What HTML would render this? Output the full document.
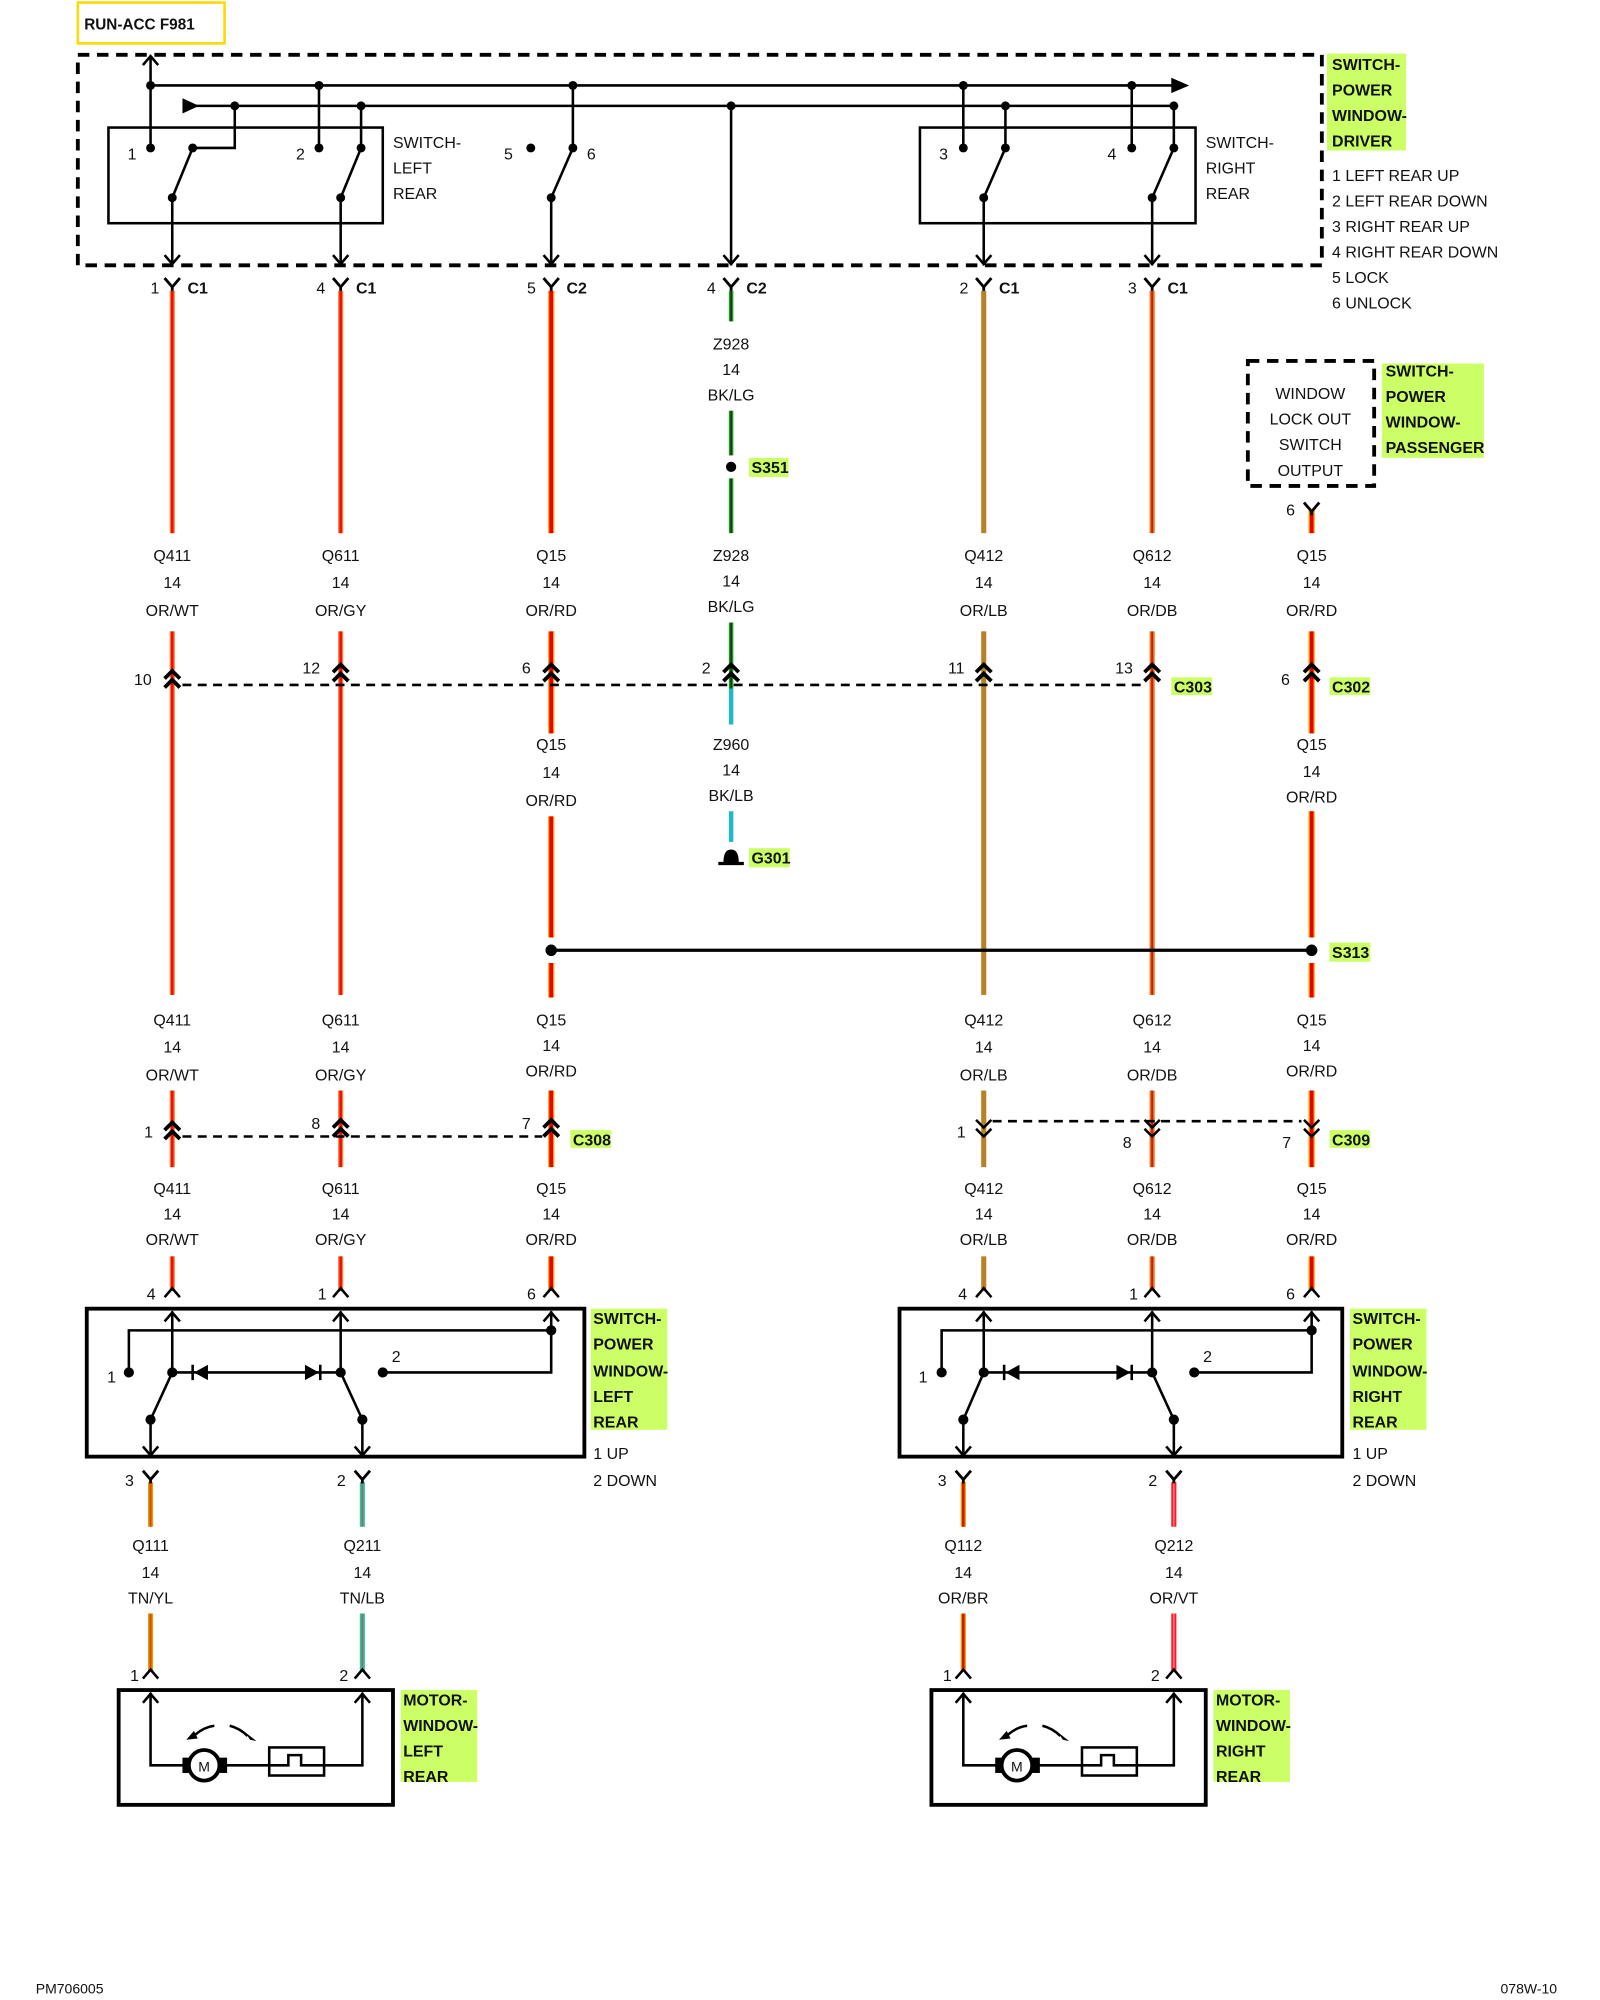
<!DOCTYPE html>
<html><head><meta charset="utf-8"><style>
html,body{margin:0;padding:0;background:#fff;width:1600px;height:2000px;overflow:hidden}
svg{display:block}
text{font-family:"Liberation Sans",sans-serif;font-size:12.5px;fill:#111}
.m{text-anchor:middle}
.b{font-weight:bold;font-size:12.5px}
.k{stroke:#000;stroke-width:2;fill:none}
.d{stroke:#000;stroke-width:3;fill:none;stroke-dasharray:9,6}
.dd{stroke:#000;stroke-width:2;fill:none;stroke-dasharray:7,5}
</style></head><body>
<svg width="1600" height="2000" viewBox="0 0 1254 1568" preserveAspectRatio="none" xmlns="http://www.w3.org/2000/svg">
<defs>
<path id="Y" d="M-6,-7 L0,0 L6,-7 M0,0 V3" stroke="#000" stroke-width="2.2" fill="none"/>
<path id="V" d="M-6,6 L0,0 L6,6" stroke="#000" stroke-width="2.2" fill="none"/>
<path id="VV" d="M-6,4 L0,-2 L6,4 M-6,11 L0,5 L6,11" stroke="#000" stroke-width="3" fill="none"/>
<path id="DV" d="M-6,-4 L0,2 L6,-4 M-6,-11 L0,-5 L6,-11" stroke="#000" stroke-width="2" fill="none"/>
<path id="AD" d="M-6,-7 L0,0 L6,-7" stroke="#000" stroke-width="2" fill="none"/>
<path id="AU" d="M-6,7 L0,0 L6,7" stroke="#000" stroke-width="2" fill="none"/>
</defs>

<!-- RUN-ACC -->
<rect x="61" y="2" width="115" height="32" fill="#fff" stroke="#ffd800" stroke-width="2"/>
<text x="66" y="23" class="b" style="font-size:12px">RUN-ACC F981</text>

<!-- driver switch dashed box -->
<path class="d" d="M61,43 H1036 V208 H61 Z"/>
<rect x="1040" y="42" width="62" height="76" fill="#ccff66"/>
<text x="1044" y="55" class="b">SWITCH-</text>
<text x="1044" y="75" class="b">POWER</text>
<text x="1044" y="95" class="b">WINDOW-</text>
<text x="1044" y="115" class="b">DRIVER</text>
<text x="1044" y="142">1 LEFT REAR UP</text>
<text x="1044" y="162">2 LEFT REAR DOWN</text>
<text x="1044" y="182">3 RIGHT REAR UP</text>
<text x="1044" y="202">4 RIGHT REAR DOWN</text>
<text x="1044" y="222">5 LOCK</text>
<text x="1044" y="242">6 UNLOCK</text>

<!-- buses -->
<path class="k" d="M118,67 H925 M150,83 H920 M118,67 V44"/>
<use href="#AU" x="118" y="44"/>
<path d="M918,61 L932,67 L918,73 Z" fill="#000"/>
<path d="M143,77 L156,83 L143,89 Z" fill="#000"/>
<rect x="85" y="100" width="215" height="75" class="k"/>
<rect x="721" y="100" width="216" height="75" class="k"/>
<text x="308" y="116">SWITCH-</text><text x="308" y="136">LEFT</text><text x="308" y="156">REAR</text>
<text x="945" y="116">SWITCH-</text><text x="945" y="136">RIGHT</text><text x="945" y="156">REAR</text>
<g class="k">
<path d="M118,67 V116 M151,116 H184 V83 M135,155 L151,116 M135,155 V208"/>
<path d="M250,67 V116 M283,83 V116 M267,155 L283,116 M267,155 V208"/>
<path d="M449,67 V116 M432,155 L449,116 M432,155 V208"/>
<path d="M573,83 V208"/>
<path d="M755,67 V116 M788,83 V116 M771,155 L788,116 M771,155 V208"/>
<path d="M887,67 V116 M920,83 V116 M903,155 L920,116 M903,155 V208"/>
</g>
<g fill="#000">
<circle cx="118" cy="67" r="3.5"/><circle cx="250" cy="67" r="3.5"/><circle cx="449" cy="67" r="3.5"/><circle cx="755" cy="67" r="3.5"/><circle cx="887" cy="67" r="3.5"/>
<circle cx="184" cy="83" r="3.5"/><circle cx="283" cy="83" r="3.5"/><circle cx="573" cy="83" r="3.5"/><circle cx="788" cy="83" r="3.5"/><circle cx="920" cy="83" r="3.5"/>
<circle cx="118" cy="116" r="3.5"/><circle cx="151" cy="116" r="3.5"/><circle cx="135" cy="155" r="3.5"/>
<circle cx="250" cy="116" r="3.5"/><circle cx="283" cy="116" r="3.5"/><circle cx="267" cy="155" r="3.5"/>
<circle cx="416" cy="116" r="3.5"/><circle cx="449" cy="116" r="3.5"/><circle cx="432" cy="155" r="3.5"/>
<circle cx="755" cy="116" r="3.5"/><circle cx="788" cy="116" r="3.5"/><circle cx="771" cy="155" r="3.5"/>
<circle cx="887" cy="116" r="3.5"/><circle cx="920" cy="116" r="3.5"/><circle cx="903" cy="155" r="3.5"/>
</g>
<text x="100" y="125">1</text><text x="232" y="125">2</text><text x="395" y="125">5</text><text x="460" y="125">6</text><text x="736" y="125">3</text><text x="868" y="125">4</text>
<use href="#AD" x="135" y="207"/><use href="#AD" x="267" y="207"/><use href="#AD" x="432" y="207"/><use href="#AD" x="573" y="207"/><use href="#AD" x="771" y="207"/><use href="#AD" x="903" y="207"/>

<!-- wires -->
<g stroke-linecap="butt" fill="none">
<!-- OR/WT 135 -->
<g><path stroke="#ff7a2a" stroke-width="4" d="M135,228V418M135,495V780M135,855V915M135,985V1012"/><path stroke="#e81010" stroke-width="2" d="M135,228V418M135,495V780M135,855V915M135,985V1012"/></g>
<g><path stroke="#ff7a2a" stroke-width="4" d="M267,228V418M267,495V780M267,855V915M267,985V1012"/><path stroke="#e81010" stroke-width="2" d="M267,228V418M267,495V780M267,855V915M267,985V1012"/></g>
<g><path stroke="#ffb000" stroke-width="5" d="M432,228V418M432,495V575M432,640V735M432,755V782M432,855V915M432,985V1012"/><path stroke="#e80000" stroke-width="3" d="M432,228V418M432,495V575M432,640V735M432,755V782M432,855V915M432,985V1012"/></g>
<g><path stroke="#ffb000" stroke-width="5" d="M1028,400V418M1028,495V575M1028,636V735M1028,755V782M1028,855V915M1028,985V1012"/><path stroke="#e80000" stroke-width="3" d="M1028,400V418M1028,495V575M1028,636V735M1028,755V782M1028,855V915M1028,985V1012"/></g>
<g><path stroke="#e07020" stroke-width="4" d="M771,228V418M771,495V780M771,855V915M771,985V1012"/><path stroke="#809a30" stroke-width="1.5" d="M771,228V418M771,495V780M771,855V915M771,985V1012"/></g>
<g><path stroke="#ff6a10" stroke-width="4" d="M903,228V418M903,495V780M903,855V915M903,985V1012"/><path stroke="#b02a20" stroke-width="1.5" d="M903,228V418M903,495V780M903,855V915M903,985V1012"/></g>
<path stroke="#1a9a1a" stroke-width="3.5" d="M573,228V252M573,322V357M573,375V418M573,488V540"/>
<path stroke="#1a1a1a" stroke-width="1" d="M573,228V252M573,322V357M573,375V418M573,488V540"/>
<path stroke="#20b8c8" stroke-width="3.5" d="M573,540V568M573,636V660"/>
<g><path stroke="#d8a000" stroke-width="4" d="M118,1162V1197M118,1265V1310"/><path stroke="#e04010" stroke-width="1.5" d="M118,1162V1197M118,1265V1310"/></g>
<g><path stroke="#20c8b8" stroke-width="4" d="M284,1162V1197M284,1265V1310"/><path stroke="#a07050" stroke-width="1.5" d="M284,1162V1197M284,1265V1310"/></g>
<g><path stroke="#ff8c00" stroke-width="4" d="M755,1162V1197M755,1265V1310"/><path stroke="#c02000" stroke-width="2" d="M755,1162V1197M755,1265V1310"/></g>
<g><path stroke="#ff1a2a" stroke-width="4" d="M920,1162V1197M920,1265V1310"/><path stroke="#ff8a90" stroke-width="1" d="M920,1162V1197M920,1265V1310"/></g>
</g>

<!-- top connectors -->
<g>
<use href="#Y" x="135" y="225"/><use href="#Y" x="267" y="225"/><use href="#Y" x="432" y="225"/><use href="#Y" x="573" y="225"/><use href="#Y" x="771" y="225"/><use href="#Y" x="903" y="225"/>
</g>
<text x="118" y="230">1</text><text x="147" y="230" class="b">C1</text>
<text x="248" y="230">4</text><text x="279" y="230" class="b">C1</text>
<text x="413" y="230">5</text><text x="444" y="230" class="b">C2</text>
<text x="554" y="230">4</text><text x="585" y="230" class="b">C2</text>
<text x="752" y="230">2</text><text x="783" y="230" class="b">C1</text>
<text x="884" y="230">3</text><text x="915" y="230" class="b">C1</text>

<text x="573" y="274" class="m">Z928</text><text x="573" y="294" class="m">14</text><text x="573" y="314" class="m">BK/LG</text>
<circle cx="573" cy="366" r="4" fill="#000"/>
<rect x="587" y="359" width="31" height="15" fill="#ccff66"/><text x="589" y="371" class="b">S351</text>

<!-- passenger switch -->
<path class="d" d="M978,283 H1077 V381 H978 Z"/>
<text x="1027" y="313" class="m">WINDOW</text><text x="1027" y="333" class="m">LOCK OUT</text><text x="1027" y="353" class="m">SWITCH</text><text x="1027" y="373" class="m">OUTPUT</text>
<rect x="1083" y="285" width="80" height="74" fill="#ccff66"/>
<text x="1086" y="295" class="b">SWITCH-</text><text x="1086" y="315" class="b">POWER</text><text x="1086" y="335" class="b">WINDOW-</text><text x="1086" y="355" class="b">PASSENGER</text>
<use href="#Y" x="1028" y="401"/><text x="1008" y="404">6</text>

<!-- labels band 1 -->
<g class="m">
<text x="135" y="440" class="m">Q411</text><text x="135" y="461" class="m">14</text><text x="135" y="483" class="m">OR/WT</text>
<text x="267" y="440" class="m">Q611</text><text x="267" y="461" class="m">14</text><text x="267" y="483" class="m">OR/GY</text>
<text x="432" y="440" class="m">Q15</text><text x="432" y="461" class="m">14</text><text x="432" y="483" class="m">OR/RD</text>
<text x="573" y="440" class="m">Z928</text><text x="573" y="460" class="m">14</text><text x="573" y="480" class="m">BK/LG</text>
<text x="771" y="440" class="m">Q412</text><text x="771" y="461" class="m">14</text><text x="771" y="483" class="m">OR/LB</text>
<text x="903" y="440" class="m">Q612</text><text x="903" y="461" class="m">14</text><text x="903" y="483" class="m">OR/DB</text>
<text x="1028" y="440" class="m">Q15</text><text x="1028" y="461" class="m">14</text><text x="1028" y="483" class="m">OR/RD</text>
</g>

<!-- C303/C302 -->
<path class="dd" d="M143,537 H895"/>
<use href="#VV" x="135" y="528"/><use href="#VV" x="267" y="523"/><use href="#VV" x="432" y="523"/><use href="#VV" x="573" y="523"/><use href="#VV" x="771" y="523"/><use href="#VV" x="903" y="523"/><use href="#VV" x="1028" y="523"/>
<text x="105" y="537">10</text><text x="237" y="528">12</text><text x="409" y="528">6</text><text x="550" y="528">2</text><text x="743" y="528">11</text><text x="874" y="528">13</text><text x="1004" y="537">6</text>
<rect x="918" y="531" width="32" height="14" fill="#ccff66"/><text x="920" y="543" class="b">C303</text>
<rect x="1042" y="531" width="32" height="14" fill="#ccff66"/><text x="1044" y="543" class="b">C302</text>

<text x="432" y="588" class="m">Q15</text><text x="432" y="610" class="m">14</text><text x="432" y="632" class="m">OR/RD</text>
<text x="573" y="588" class="m">Z960</text><text x="573" y="608" class="m">14</text><text x="573" y="628" class="m">BK/LB</text>
<text x="1028" y="588" class="m">Q15</text><text x="1028" y="609" class="m">14</text><text x="1028" y="629" class="m">OR/RD</text>
<path d="M563,677 H583" stroke="#000" stroke-width="2.5"/><path d="M567,676 Q567,666 573,666 Q579,666 579,676 Z" fill="#000"/>
<rect x="587" y="665" width="32" height="15" fill="#ccff66"/><text x="589" y="677" class="b">G301</text>

<!-- S313 -->
<path d="M432,745 H1028" stroke="#000" stroke-width="2.5"/>
<circle cx="432" cy="745" r="4.5" fill="#000"/><circle cx="1028" cy="745" r="4.5" fill="#000"/>
<rect x="1042" y="739" width="32" height="15" fill="#ccff66"/><text x="1044" y="751" class="b">S313</text>

<!-- labels band 2 -->
<text x="135" y="804" class="m">Q411</text><text x="135" y="825" class="m">14</text><text x="135" y="847" class="m">OR/WT</text>
<text x="267" y="804" class="m">Q611</text><text x="267" y="825" class="m">14</text><text x="267" y="847" class="m">OR/GY</text>
<text x="432" y="804" class="m">Q15</text><text x="432" y="824" class="m">14</text><text x="432" y="844" class="m">OR/RD</text>
<text x="771" y="804" class="m">Q412</text><text x="771" y="825" class="m">14</text><text x="771" y="847" class="m">OR/LB</text>
<text x="903" y="804" class="m">Q612</text><text x="903" y="825" class="m">14</text><text x="903" y="847" class="m">OR/DB</text>
<text x="1028" y="804" class="m">Q15</text><text x="1028" y="824" class="m">14</text><text x="1028" y="844" class="m">OR/RD</text>

<!-- C308 / C309 -->
<path class="dd" d="M143,891 H425"/>
<use href="#VV" x="135" y="882"/><use href="#VV" x="267" y="880"/><use href="#VV" x="432" y="880"/>
<text x="113" y="892">1</text><text x="244" y="885">8</text><text x="409" y="885">7</text>
<rect x="447" y="886" width="32" height="14" fill="#ccff66"/><text x="449" y="898" class="b">C308</text>
<path class="dd" d="M778,879 H1020"/>
<use href="#DV" x="771" y="889"/><use href="#DV" x="903" y="889"/><use href="#DV" x="1028" y="889"/>
<text x="750" y="892">1</text><text x="880" y="900">8</text><text x="1005" y="900">7</text>
<rect x="1042" y="886" width="32" height="14" fill="#ccff66"/><text x="1044" y="898" class="b">C309</text>

<!-- labels band 3 -->
<text x="135" y="936" class="m">Q411</text><text x="135" y="956" class="m">14</text><text x="135" y="976" class="m">OR/WT</text>
<text x="267" y="936" class="m">Q611</text><text x="267" y="956" class="m">14</text><text x="267" y="976" class="m">OR/GY</text>
<text x="432" y="936" class="m">Q15</text><text x="432" y="956" class="m">14</text><text x="432" y="976" class="m">OR/RD</text>
<text x="771" y="936" class="m">Q412</text><text x="771" y="956" class="m">14</text><text x="771" y="976" class="m">OR/LB</text>
<text x="903" y="936" class="m">Q612</text><text x="903" y="956" class="m">14</text><text x="903" y="976" class="m">OR/DB</text>
<text x="1028" y="936" class="m">Q15</text><text x="1028" y="956" class="m">14</text><text x="1028" y="976" class="m">OR/RD</text>

<!-- pins above switches -->
<use href="#AU" x="135" y="1010"/><use href="#AU" x="267" y="1010"/><use href="#AU" x="432" y="1010"/>
<use href="#AU" x="771" y="1010"/><use href="#AU" x="903" y="1010"/><use href="#AU" x="1028" y="1010"/>
<text x="115" y="1019">4</text><text x="249" y="1019">1</text><text x="413" y="1019">6</text>
<text x="751" y="1019">4</text><text x="885" y="1019">1</text><text x="1008" y="1019">6</text>

<!-- left rear switch -->
<rect x="68" y="1026" width="390" height="116" fill="none" stroke="#000" stroke-width="3"/>
<g class="k">
<path d="M135,1028 V1076 M267,1028 V1076 M432,1028 V1076 H300 M101,1076 V1043 H432 M135,1076 H267 M135,1076 L118,1113 V1141 M267,1076 L284,1113 V1141"/>
</g>
<use href="#AU" x="135" y="1029"/><use href="#AU" x="267" y="1029"/><use href="#AU" x="432" y="1029"/>
<use href="#AD" x="118" y="1141"/><use href="#AD" x="284" y="1141"/>
<g fill="#000"><circle cx="101" cy="1076" r="4"/><circle cx="135" cy="1076" r="4"/><circle cx="267" cy="1076" r="4"/><circle cx="300" cy="1076" r="4"/><circle cx="432" cy="1043" r="4"/><circle cx="118" cy="1113" r="4"/><circle cx="284" cy="1113" r="4"/>
<path d="M152,1076 L163,1070 V1082 Z"/><path d="M250,1076 L239,1070 V1082 Z"/></g>
<path d="M151,1070 V1082 M251,1070 V1082" stroke="#000" stroke-width="2"/>
<text x="84" y="1084">1</text><text x="307" y="1068">2</text>
<rect x="463" y="1026" width="60" height="95" fill="#ccff66"/>
<text x="465" y="1038" class="b">SWITCH-</text><text x="465" y="1058" class="b">POWER</text><text x="465" y="1079" class="b">WINDOW-</text><text x="465" y="1099" class="b">LEFT</text><text x="465" y="1119" class="b">REAR</text>
<text x="465" y="1144">1 UP</text><text x="465" y="1165">2 DOWN</text>

<!-- right rear switch -->
<rect x="705" y="1026" width="347" height="116" fill="none" stroke="#000" stroke-width="3"/>
<g class="k">
<path d="M771,1028 V1076 M903,1028 V1076 M1028,1028 V1076 H936 M738,1076 V1043 H1028 M771,1076 H903 M771,1076 L755,1113 V1141 M903,1076 L920,1113 V1141"/>
</g>
<use href="#AU" x="771" y="1029"/><use href="#AU" x="903" y="1029"/><use href="#AU" x="1028" y="1029"/>
<use href="#AD" x="755" y="1141"/><use href="#AD" x="920" y="1141"/>
<g fill="#000"><circle cx="738" cy="1076" r="4"/><circle cx="771" cy="1076" r="4"/><circle cx="903" cy="1076" r="4"/><circle cx="936" cy="1076" r="4"/><circle cx="1028" cy="1043" r="4"/><circle cx="755" cy="1113" r="4"/><circle cx="920" cy="1113" r="4"/>
<path d="M788,1076 L799,1070 V1082 Z"/><path d="M886,1076 L875,1070 V1082 Z"/></g>
<path d="M787,1070 V1082 M887,1070 V1082" stroke="#000" stroke-width="2"/>
<text x="720" y="1084">1</text><text x="943" y="1068">2</text>
<rect x="1058" y="1026" width="60" height="95" fill="#ccff66"/>
<text x="1060" y="1038" class="b">SWITCH-</text><text x="1060" y="1058" class="b">POWER</text><text x="1060" y="1079" class="b">WINDOW-</text><text x="1060" y="1099" class="b">RIGHT</text><text x="1060" y="1119" class="b">REAR</text>
<text x="1060" y="1144">1 UP</text><text x="1060" y="1165">2 DOWN</text>

<!-- bottom connectors -->
<use href="#Y" x="118" y="1160"/><use href="#Y" x="284" y="1160"/><use href="#Y" x="755" y="1160"/><use href="#Y" x="920" y="1160"/>
<text x="98" y="1165">3</text><text x="264" y="1165">2</text><text x="735" y="1165">3</text><text x="900" y="1165">2</text>
<text x="118" y="1216" class="m">Q111</text><text x="118" y="1237" class="m">14</text><text x="118" y="1257" class="m">TN/YL</text>
<text x="284" y="1216" class="m">Q211</text><text x="284" y="1237" class="m">14</text><text x="284" y="1257" class="m">TN/LB</text>
<text x="755" y="1216" class="m">Q112</text><text x="755" y="1237" class="m">14</text><text x="755" y="1257" class="m">OR/BR</text>
<text x="920" y="1216" class="m">Q212</text><text x="920" y="1237" class="m">14</text><text x="920" y="1257" class="m">OR/VT</text>
<use href="#AU" x="118" y="1309"/><use href="#AU" x="284" y="1309"/><use href="#AU" x="755" y="1309"/><use href="#AU" x="920" y="1309"/>
<text x="102" y="1318">1</text><text x="266" y="1318">2</text><text x="739" y="1318">1</text><text x="902" y="1318">2</text>

<!-- motors -->
<g>
<rect x="93" y="1325" width="215" height="90" fill="none" stroke="#000" stroke-width="3"/>
<path class="k" d="M118,1327 V1384 H147 M173,1384 H211 M254,1384 H284 V1327"/>
<use href="#AU" x="118" y="1328"/><use href="#AU" x="284" y="1328"/>
<rect x="143" y="1378" width="35" height="12" fill="#000"/>
<circle cx="160" cy="1384" r="12" fill="#fff" stroke="#000" stroke-width="3"/>
<text x="160" y="1389" class="m" style="font-size:11px">M</text>
<rect x="211" y="1370" width="43" height="22" fill="none" stroke="#000" stroke-width="2"/>
<path class="k" d="M211,1384 H226 V1376 H236 V1384 H254"/>
<path class="k" d="M153,1360 Q160,1354 168,1353 M180,1353 Q188,1355 194,1361"/>
<path d="M146,1364 L152,1357 L155,1363 Z M201,1365 L192,1358 L196,1364 Z" fill="#000"/>
<rect x="314" y="1325" width="60" height="72" fill="#ccff66"/>
<text x="316" y="1337" class="b">MOTOR-</text><text x="316" y="1357" class="b">WINDOW-</text><text x="316" y="1377" class="b">LEFT</text><text x="316" y="1397" class="b">REAR</text>
</g>
<g>
<rect x="730" y="1325" width="215" height="90" fill="none" stroke="#000" stroke-width="3"/>
<path class="k" d="M755,1327 V1384 H784 M810,1384 H848 M891,1384 H920 V1327"/>
<use href="#AU" x="755" y="1328"/><use href="#AU" x="920" y="1328"/>
<rect x="780" y="1378" width="35" height="12" fill="#000"/>
<circle cx="797" cy="1384" r="12" fill="#fff" stroke="#000" stroke-width="3"/>
<text x="797" y="1389" class="m" style="font-size:11px">M</text>
<rect x="848" y="1370" width="43" height="22" fill="none" stroke="#000" stroke-width="2"/>
<path class="k" d="M848,1384 H863 V1376 H873 V1384 H891"/>
<path class="k" d="M790,1360 Q797,1354 805,1353 M817,1353 Q825,1355 831,1361"/>
<path d="M783,1364 L789,1357 L792,1363 Z M838,1365 L829,1358 L833,1364 Z" fill="#000"/>
<rect x="951" y="1325" width="60" height="72" fill="#ccff66"/>
<text x="953" y="1337" class="b">MOTOR-</text><text x="953" y="1357" class="b">WINDOW-</text><text x="953" y="1377" class="b">RIGHT</text><text x="953" y="1397" class="b">REAR</text>
</g>

<text x="28" y="1563" style="font-size:11px">PM706005</text>
<text x="1176" y="1563" style="font-size:11px">078W-10</text>
</svg>
</body></html>
